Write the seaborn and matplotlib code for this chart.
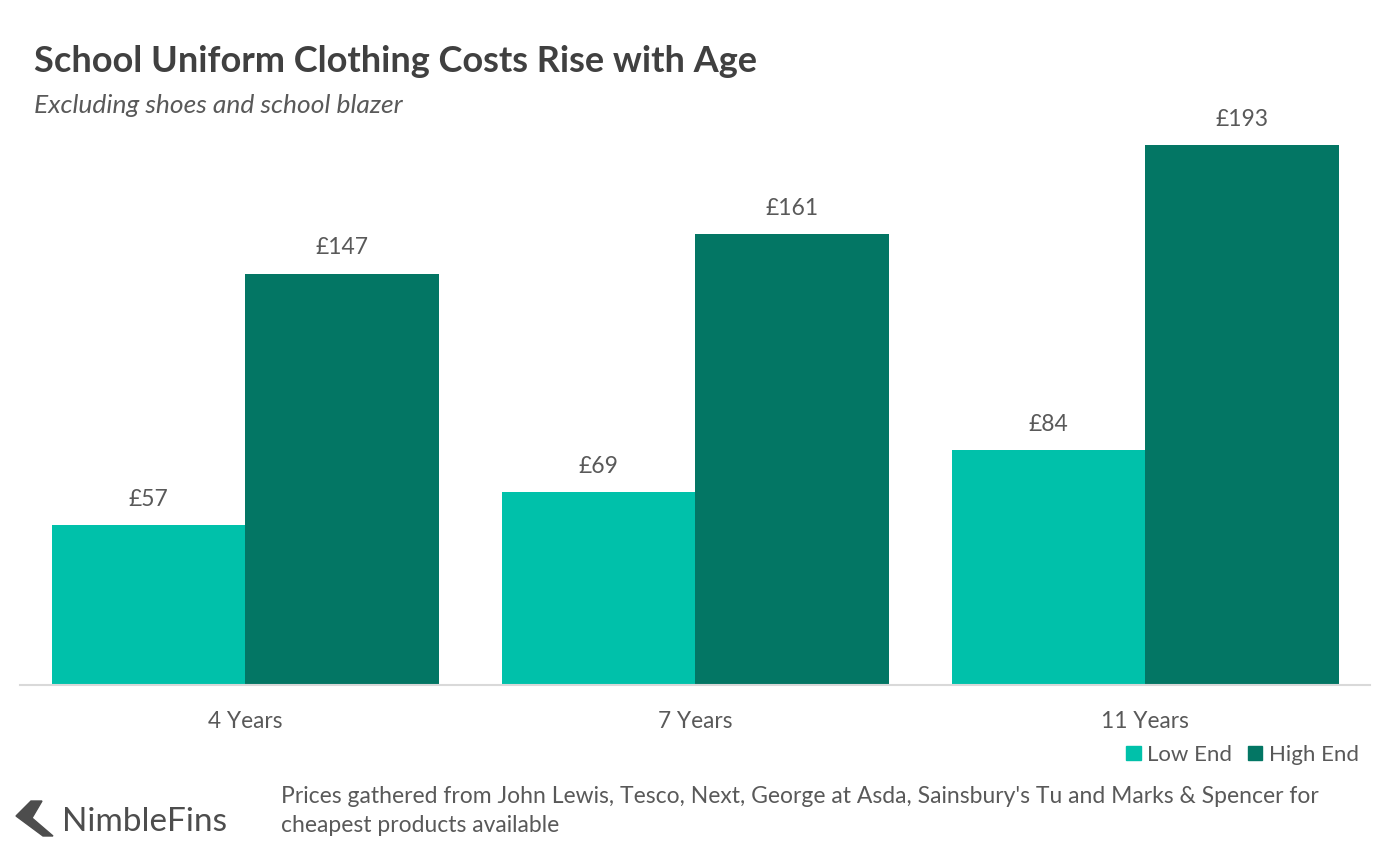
import matplotlib.pyplot as plt
import matplotlib.patches as mpatches
import pandas as pd
import seaborn as sns

# Chart data
ages = ["4 Years", "7 Years", "11 Years"]
low_end = [57, 69, 84]
high_end = [147, 161, 193]
series = ["Low End", "High End"]
colors = {"Low End": "#00C1AA", "High End": "#037664"}

df = pd.DataFrame({
    "age": ages * 2,
    "cost": low_end + high_end,
    "tier": ["Low End"] * 3 + ["High End"] * 3,
})

sns.set_theme(style="white")
plt.rcParams["font.family"] = ["Lato", "DejaVu Sans"]
text_gray = "#595959"

W, H = 1400, 852
fig = plt.figure(figsize=(W / 100, H / 100), dpi=100)
ax = fig.add_axes([0.0143, 0.196, 0.9643, 0.657])

sns.barplot(data=df, x="age", y="cost", hue="tier", order=ages, hue_order=series,
            palette=colors, width=0.86, saturation=1, linewidth=0, ax=ax, legend=False)

# Value labels above bars
for container in ax.containers:
    ax.bar_label(container, labels=["£%d" % v for v in container.datavalues],
                 padding=11, fontsize=16.5, color=text_gray)

ax.set_xlim(-0.5, 2.5)
ax.set_ylim(0, 200)
ax.set_xlabel("")
ax.set_ylabel("")
ax.set_yticks([])
ax.tick_params(axis="x", length=0, pad=19, labelsize=16.3, labelcolor=text_gray)
for side in ["top", "right", "left"]:
    ax.spines[side].set_visible(False)
ax.spines["bottom"].set_color("#D9D9D9")
ax.spines["bottom"].set_linewidth(1.5)

# Titles
fig.text(0.024, 0.916, "School Uniform Clothing Costs Rise with Age",
         fontsize=26, fontweight="bold", color="#404040")
fig.text(0.024, 0.867, "Excluding shoes and school blazer",
         fontsize=19, style="italic", color=text_gray)

# Legend
handles = [mpatches.Patch(color=colors[s], label=s) for s in series]
fig.legend(handles=handles, loc="center right", bbox_to_anchor=(0.985, 0.114),
           ncol=2, frameon=False, fontsize=16, handlelength=0.65, handleheight=0.65,
           handletextpad=0.3, columnspacing=0.7, labelcolor=text_gray)

# Footer
fig.text(0.201, 1 - 811 / H, "Prices gathered from John Lewis, Tesco, Next, George at Asda, "
         "Sainsbury's Tu and Marks & Spencer for\ncheapest products available",
         fontsize=16.5, color=text_gray, va="center", linespacing=1.45)

# NimbleFins logo
chevron_px = [(16, 816), (31, 801), (42, 801), (32, 818), (53, 836), (43, 836)]
chevron = mpatches.Polygon([(x / W, 1 - y / H) for x, y in chevron_px],
                           closed=True, transform=fig.transFigure, color="#4d4d4d")
fig.patches.append(chevron)
fig.text(0.044, 1 - 822 / H, "NimbleFins", fontsize=24, color="#4d4d4d", va="center")

plt.savefig("out.png", dpi=100)
